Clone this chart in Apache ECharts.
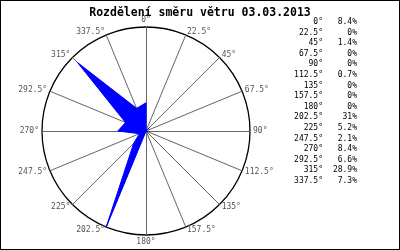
<!DOCTYPE html>
<html>
<head>
<meta charset="utf-8">
<script src="https://cdn.jsdelivr.net/npm/echarts@6/dist/echarts.min.js"></script>
<style>
html,body{margin:0;padding:0;background:#fff;}
#c{width:400px;height:250px;box-sizing:border-box;border:1px solid #000;}
</style>
</head>
<body>
<div id="c"></div>
<script>
var titleText = 'Rozdělení směru větru 03.03.2013';
var directions = ['0°','22.5°','45°','67.5°','90°','112.5°','135°','157.5°','180°','202.5°','225°','247.5°','270°','292.5°','315°','337.5°'];
var values = [8.4, 0, 1.4, 0, 0, 0.7, 0, 0, 0, 31, 5.2, 2.1, 8.4, 6.6, 28.9, 7.3];
var percentLabels = ['8.4%','0%','1.4%','0%','0%','0.7%','0%','0%','0%','31%','5.2%','2.1%','8.4%','6.6%','28.9%','7.3%'];
var maxValue = 31;

// ECharts radar runs counter-clockwise; reverse order (keeping 0° first) to get compass order clockwise
var order = [0];
for (var i = directions.length - 1; i >= 1; i--) order.push(i);
var indicators = order.map(function (k) { return { name: directions[k], min: 0, max: maxValue }; });
var radarValues = order.map(function (k) { return values[k]; });

var mono = 'DejaVu Sans Mono';
var legendItems = [];
directions.forEach(function (d, i) {
  var y = 21 + i * 10.6;
  legendItems.push({ type: 'text', x: 322, y: y, style: { text: d, fill: '#000', font: '8px "' + mono + '"', align: 'right', verticalAlign: 'middle' } });
  legendItems.push({ type: 'text', x: 356, y: y, style: { text: percentLabels[i], fill: '#000', font: '8px "' + mono + '"', align: 'right', verticalAlign: 'middle' } });
});

var chart = echarts.init(document.getElementById('c'), null, { renderer: 'canvas' });
chart.setOption({
  animation: false,
  backgroundColor: '#fff',
  title: {
    text: titleText, left: 'center', top: 1,
    textStyle: { fontFamily: mono, fontSize: 11.5, fontWeight: 'bold', color: '#000' }
  },
  radar: {
    center: [145, 130],
    radius: 104,
    shape: 'circle',
    startAngle: 90,
    splitNumber: 1,
    nameGap: 3,
    indicator: indicators,
    axisName: { color: '#555', fontFamily: mono, fontSize: 8 },
    axisLine: { lineStyle: { color: '#666', width: 1 } },
    splitLine: { lineStyle: { color: '#000', width: 1.3 } },
    splitArea: { show: false },
    axisTick: { show: false },
    axisLabel: { show: false }
  },
  graphic: legendItems,
  series: [{
    type: 'radar',
    symbol: 'none',
    data: [{ value: radarValues }],
    lineStyle: { color: '#0000ff', width: 1 },
    areaStyle: { color: '#0000ff', opacity: 1 }
  }]
});
</script>
</body>
</html>
